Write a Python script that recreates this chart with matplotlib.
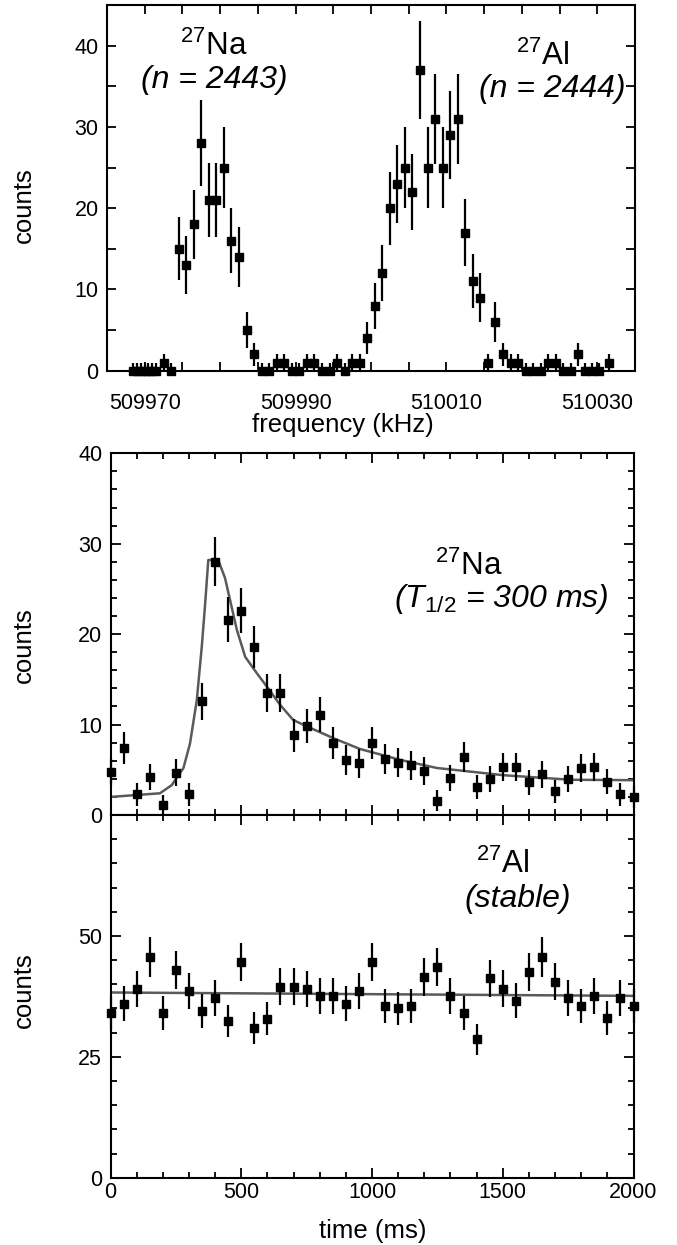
import matplotlib
matplotlib.use('Agg')
import matplotlib.pyplot as plt
import numpy as np
from matplotlib.ticker import MultipleLocator, FixedLocator, NullFormatter

plt.rcParams['font.family'] = ['Liberation Sans', 'DejaVu Sans']
plt.rcParams['mathtext.fontset'] = 'custom'
plt.rcParams['mathtext.rm'] = 'Liberation Sans'
plt.rcParams['mathtext.it'] = 'Liberation Sans:italic'

# --- top panel: resonance scan (counts vs frequency) ---
freq_khz = [509968.5, 509969.0, 509969.5, 509970.0, 509970.5, 509971.0, 509971.5,
            509972.5, 509973.5, 509974.5, 509975.5, 509976.5, 509977.5, 509978.5,
            509979.5, 509980.5, 509981.5, 509982.5, 509983.5, 509984.5, 509985.5,
            509986.5, 509987.5, 509988.5, 509989.5, 509990.5, 509991.5, 509992.5,
            509993.5, 509994.5, 509995.5, 509996.5, 509997.5, 509998.5, 509999.5,
            510000.5, 510001.5, 510002.5, 510003.5, 510004.5, 510005.5, 510006.5,
            510007.5, 510008.5, 510009.5, 510010.5, 510011.5, 510012.5, 510013.5,
            510014.5, 510015.5, 510016.5, 510017.5, 510018.5, 510019.5, 510020.5,
            510021.5, 510022.5, 510023.5, 510024.5, 510025.5, 510026.5, 510027.5,
            510028.4, 510029.3, 510030.2, 510031.5]
scan_counts = [0, 0, 0, 0, 0, 0, 0,
               1, 0, 15, 13, 18, 28, 21,
               21, 25, 16, 14, 5, 2, 0,
               0, 1, 1, 0, 0, 1, 1,
               0, 0, 1, 0, 1, 1, 4,
               8, 12, 20, 23, 25, 22, 37,
               25, 31, 25, 29, 31, 17, 11,
               9, 1, 6, 2, 1, 1, 0,
               0, 0, 1, 1, 0, 0, 2,
               0, 0, 0, 1]
freq_ticks = [509970, 509990, 510010, 510030]

# --- middle panel: 27Na decay ---
time_ms = [0, 50, 100, 150, 200, 250, 300, 350, 400, 450, 500, 550, 600, 650,
           700, 750, 800, 850, 900, 950, 1000, 1050, 1100, 1150, 1200, 1250,
           1300, 1350, 1400, 1450, 1500, 1550, 1600, 1650, 1700, 1750, 1800,
           1850, 1900, 1950, 2000]
na_counts = [4.8, 7.4, 2.3, 4.2, 1.1, 4.7, 2.3, 12.6, 28.0, 21.6, 22.6, 18.6,
             13.5, 13.5, 8.8, 9.8, 11.1, 8.0, 6.1, 5.7, 8.0, 6.2, 5.8, 5.5,
             4.9, 1.6, 4.1, 6.4, 3.1, 4.0, 5.3, 5.3, 3.6, 4.5, 2.6, 4.0, 5.2,
             5.3, 3.7, 2.3, 2.0]
na_err = [1.53, 1.73, 1.28, 1.48, 1.10, 1.52, 1.28, 2.05, 2.71, 2.47, 2.51,
          2.34, 2.10, 2.10, 1.83, 1.89, 1.97, 1.77, 1.64, 1.61, 1.77, 1.65,
          1.62, 1.59, 1.54, 1.18, 1.47, 1.66, 1.37, 1.46, 1.57, 1.57, 1.42,
          1.51, 1.31, 1.46, 1.57, 1.57, 1.43, 1.28, 1.24]
na_fit_t = [0, 189, 234, 279, 304, 330, 349, 361, 374, 412, 438, 457, 483, 515,
            559, 598, 648, 699, 751, 852, 954, 1044, 1107, 1248, 1503, 1758, 2000]
na_fit_y = [2.0, 2.4, 3.3, 5.2, 7.9, 12.7, 18.6, 23.0, 28.2, 28.2, 26.2, 23.8,
            20.5, 17.5, 15.7, 14.2, 12.2, 10.5, 9.8, 8.5, 7.3, 6.6, 6.1, 5.2,
            4.4, 3.9, 3.85]

# --- bottom panel: 27Al (stable) ---
al_counts = [34.1, 36.0, 39.0, 45.7, 34.0, 43.0, 38.6, 34.4, 37.1, 32.4, 44.6,
             31.0, 32.9, 39.5, 39.5, 39.0, 37.5, 37.5, 36.0, 38.6, 44.6, 35.5,
             35.0, 35.5, 41.5, 43.6, 37.5, 34.1, 28.6, 41.2, 39.1, 36.6, 42.6,
             45.7, 40.5, 37.1, 35.5, 37.5, 33.1, 37.1, 35.5]
al_err = [3.5, 3.6, 3.7, 4.1, 3.5, 3.9, 3.7, 3.5, 3.7, 3.4, 4.0, 3.3, 3.4, 3.8,
          3.8, 3.7, 3.7, 3.7, 3.6, 3.7, 4.0, 3.6, 3.5, 3.6, 3.9, 4.0, 3.7, 3.5,
          3.2, 3.9, 3.8, 3.6, 3.9, 4.1, 3.8, 3.7, 3.6, 3.7, 3.5, 3.7, 3.6]
al_fit_t = [0, 2000]
al_fit_y = [38.3, 37.6]

W, H = 677, 1245


def fx(px):
    return px / W


def fy(py):
    return 1 - py / H


fig = plt.figure(figsize=(W / 100, H / 100), dpi=100)

# axes rectangles in pixels (left, top, right, bottom)
ax1 = fig.add_axes([fx(107), fy(370.7), (635 - 107) / W, (370.7 - 5) / H])
ax2 = fig.add_axes([fx(110.5), fy(815), 523 / W, (815 - 453.3) / H])
ax3 = fig.add_axes([fx(110.5), fy(1177.7), 523 / W, (1177.7 - 815) / H])

for ax in (ax1, ax2, ax3):
    for sp in ax.spines.values():
        sp.set_linewidth(1.5)
    ax.tick_params(which='both', direction='in', top=True, right=True,
                   width=1.3, labelsize=15.5)

# top panel
scan_counts = np.array(scan_counts, dtype=float)
scan_err = np.sqrt(np.maximum(scan_counts, 1))
lower = np.minimum(scan_err, scan_counts)
ax1.errorbar(freq_khz, scan_counts, yerr=[lower, scan_err], fmt='s', color='black',
             ms=6.3, elinewidth=1.6, capsize=0, clip_on=False, zorder=3)
ax1.set_xlim(509965, 510035)
ax1.set_ylim(0, 45)
ax1.xaxis.set_major_locator(FixedLocator(freq_ticks))
ax1.xaxis.set_minor_locator(MultipleLocator(5))
ax1.yaxis.set_major_locator(FixedLocator([0, 10, 20, 30, 40]))
ax1.yaxis.set_minor_locator(MultipleLocator(5))
ax1.ticklabel_format(axis='x', useOffset=False, style='plain')
ax1.tick_params(which='both', length=6.5)
ax1.tick_params(axis='x', pad=16)
ax1.tick_params(axis='y', pad=6)

# middle panel
ax2.plot(na_fit_t, na_fit_y, color='#5a5a5a', lw=1.8, zorder=2)
ax2.errorbar(time_ms, na_counts, yerr=na_err, fmt='s', color='black', ms=6.3,
             elinewidth=1.6, capsize=0, clip_on=False, zorder=3)
ax2.set_xlim(0, 2000)
ax2.set_ylim(0, 40)
ax2.xaxis.set_major_locator(MultipleLocator(500))
ax2.xaxis.set_minor_locator(MultipleLocator(100))
ax2.xaxis.set_major_formatter(NullFormatter())
ax2.yaxis.set_major_locator(MultipleLocator(10))
ax2.yaxis.set_minor_locator(MultipleLocator(2))
ax2.tick_params(which='major', length=7)
ax2.tick_params(which='minor', length=4)
ax2.tick_params(axis='y', pad=6)

# bottom panel
ax3.plot(al_fit_t, al_fit_y, color='#5a5a5a', lw=1.8, zorder=2)
ax3.errorbar(time_ms, al_counts, yerr=al_err, fmt='s', color='black', ms=6.3,
             elinewidth=1.6, capsize=0, clip_on=False, zorder=3)
ax3.set_xlim(0, 2000)
ax3.set_ylim(0, 75)
ax3.xaxis.set_major_locator(MultipleLocator(500))
ax3.xaxis.set_minor_locator(MultipleLocator(100))
ax3.yaxis.set_major_locator(FixedLocator([0, 25, 50, 75]))
ax3.yaxis.set_minor_locator(MultipleLocator(5))
ax3.set_yticklabels(['0', '25', '50', ''])
ax3.tick_params(which='major', length=7)
ax3.tick_params(which='minor', length=4)
ax3.tick_params(axis='x', pad=3)
ax3.tick_params(axis='y', pad=6)

# axis labels
fig.text(fx(343), fy(431.7), 'frequency (kHz)', ha='center', va='baseline', fontsize=18.5)
fig.text(fx(372.5), fy(1238.3), 'time (ms)', ha='center', va='baseline', fontsize=18.5)
for yc in (205, 645, 990):
    fig.text(fx(24), fy(yc), 'counts', rotation=90, ha='center', va='center', fontsize=18.5)

# annotations
fig.text(fx(214), fy(55), r'$^{\mathrm{27}}$Na', ha='center', va='baseline', fontsize=22.5)
fig.text(fx(214), fy(88.3), '(n = 2443)', ha='center', va='baseline', fontsize=23,
         style='italic')
fig.text(fx(543), fy(65), r'$^{\mathrm{27}}$Al', ha='center', va='baseline', fontsize=22.5)
fig.text(fx(552), fy(96.7), '(n = 2444)', ha='center', va='baseline', fontsize=23,
         style='italic')
fig.text(fx(469), fy(575), r'$^{\mathrm{27}}$Na', ha='center', va='baseline', fontsize=22.5)
fig.text(fx(501.5), fy(606.7), r'(T$_{\mathit{1/2}}$ = 300 ms)', ha='center',
         va='baseline', fontsize=23, style='italic')
fig.text(fx(502.5), fy(873.3), r'$^{\mathrm{27}}$Al', ha='center', va='baseline', fontsize=22.5)
fig.text(fx(517.5), fy(906.7), '(stable)', ha='center', va='baseline', fontsize=23,
         style='italic')

fig.savefig('out.png', dpi=100)
